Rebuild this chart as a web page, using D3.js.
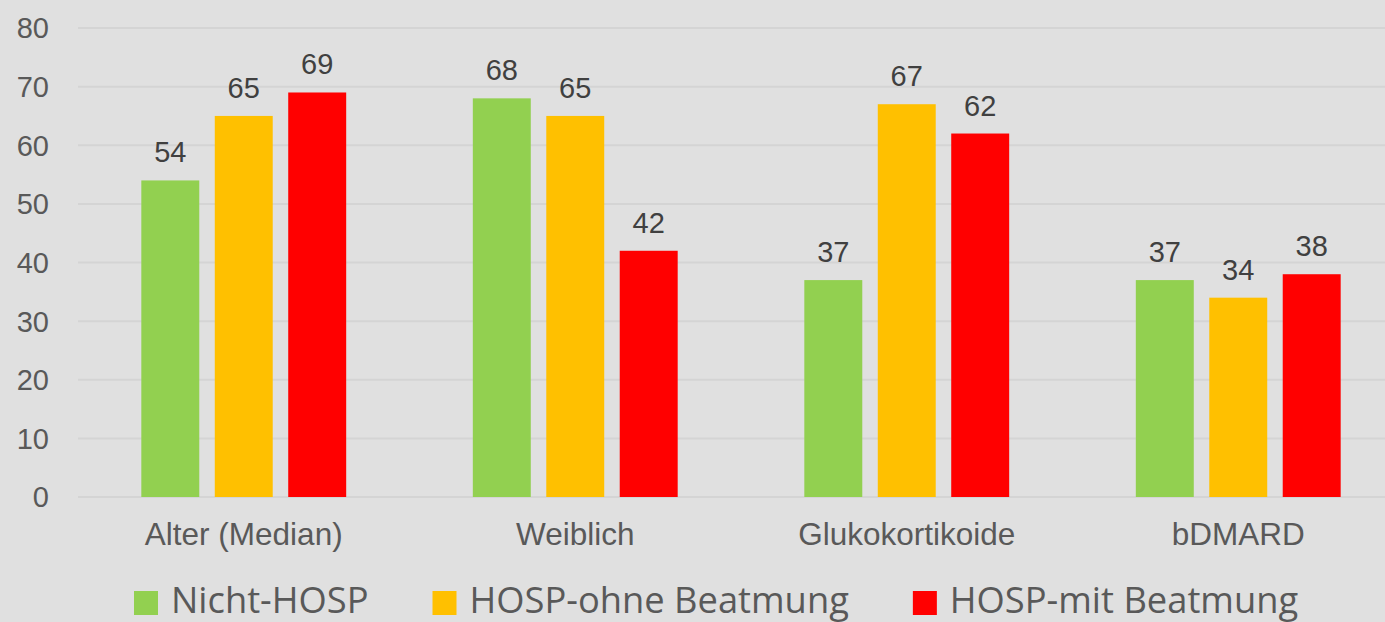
<!DOCTYPE html>
<html>
<head>
<meta charset="utf-8">
<script src="https://cdn.jsdelivr.net/npm/d3@7"></script>
<style>
  html, body { margin: 0; padding: 0; background: #e0e0e0; }
  svg { display: block; }
</style>
</head>
<body>
<div id="chart"></div>
<script>
const width = 1385;
const height = 622;

// data
const categories = ['Alter (Median)', 'Weiblich', 'Glukokortikoide', 'bDMARD'];
const seriesNames = ['Nicht-HOSP', 'HOSP-ohne Beatmung', 'HOSP-mit Beatmung'];
const nichtHosp = [54, 68, 37, 37];
const hospOhne = [65, 65, 67, 34];
const hospMit = [69, 42, 62, 38];
const yTicks = [0, 10, 20, 30, 40, 50, 60, 70, 80];
const colors = ['#92d050', '#ffc000', '#ff0000'];

const seriesValues = [nichtHosp, hospOhne, hospMit];

const svg = d3.select('#chart').append('svg')
    .attr('width', width)
    .attr('height', height);

svg.append('rect').attr('width', width).attr('height', height).attr('fill', '#e0e0e0');

const plotLeft = 78, plotRight = 1404, plotTop = 28, plotBottom = 497;

const y = d3.scaleLinear().domain([0, 80]).range([plotBottom, plotTop]);
const x0 = d3.scaleBand().domain(categories).range([plotLeft, plotRight])
    .paddingInner(0.382).paddingOuter(0.191);
const x1 = d3.scaleBand().domain(seriesNames).range([0, x0.bandwidth()])
    .paddingInner(0.211).paddingOuter(0);

// gridlines
svg.append('g')
    .selectAll('line')
    .data(yTicks)
    .join('line')
    .attr('x1', plotLeft)
    .attr('x2', plotRight)
    .attr('y1', d => y(d))
    .attr('y2', d => y(d))
    .attr('stroke', '#d4d4d4')
    .attr('stroke-width', 2);

// y tick labels
svg.append('g')
    .selectAll('text')
    .data(yTicks)
    .join('text')
    .attr('x', 49)
    .attr('y', d => y(d))
    .attr('dy', '0.36em')
    .attr('text-anchor', 'end')
    .attr('font-family', 'Liberation Sans, Arial, sans-serif')
    .attr('font-size', 29)
    .attr('fill', '#595959')
    .text(d => d);

// bars
const rows = categories.map((c, i) => ({
    cat: c,
    vals: seriesNames.map((s, j) => ({ s, j, v: seriesValues[j][i] }))
}));

const groups = svg.append('g')
    .selectAll('g')
    .data(rows)
    .join('g')
    .attr('transform', d => `translate(${x0(d.cat)},0)`);

groups.selectAll('rect')
    .data(d => d.vals)
    .join('rect')
    .attr('x', d => x1(d.s))
    .attr('y', d => y(d.v))
    .attr('width', x1.bandwidth())
    .attr('height', d => y(0) - y(d.v))
    .attr('fill', d => colors[d.j]);

groups.selectAll('text')
    .data(d => d.vals)
    .join('text')
    .attr('x', d => x1(d.s) + x1.bandwidth() / 2)
    .attr('y', d => y(d.v) - 18)
    .attr('text-anchor', 'middle')
    .attr('font-family', 'Liberation Sans, Arial, sans-serif')
    .attr('font-size', 29)
    .attr('fill', '#404040')
    .text(d => d.v);

// category labels
svg.append('g')
    .selectAll('text')
    .data(categories)
    .join('text')
    .attr('x', d => x0(d) + x0.bandwidth() / 2)
    .attr('y', 545)
    .attr('text-anchor', 'middle')
    .attr('font-family', 'Liberation Sans, Arial, sans-serif')
    .attr('font-size', 31.5)
    .attr('fill', '#595959')
    .text(d => d);

// legend
const legend = svg.append('g');
let lx = 134;
seriesNames.forEach((name, i) => {
    legend.append('rect')
        .attr('x', lx)
        .attr('y', 591)
        .attr('width', 24)
        .attr('height', 24)
        .attr('fill', colors[i]);
    const t = legend.append('text')
        .attr('x', lx + 37)
        .attr('y', 613)
        .attr('font-family', 'Open Sans, sans-serif')
        .attr('font-size', 36.3)
        .attr('fill', '#595959')
        .text(name);
    const w = t.node().getComputedTextLength();
    lx = lx + 37 + w + 64;
});
</script>
</body>
</html>
